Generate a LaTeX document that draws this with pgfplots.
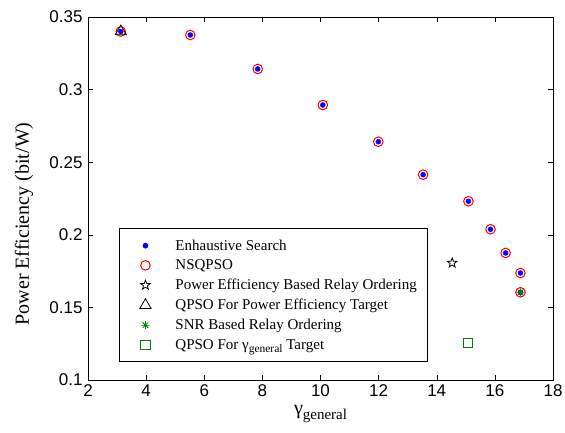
\documentclass[border=0pt]{standalone}
\usepackage{fontspec}
\setmainfont{Liberation Serif}
\setsansfont{Liberation Sans}
\usepackage{pgfplots}
\pgfplotsset{compat=1.18}
\definecolor{mgreen}{rgb}{0,0.5,0}

% five-pointed outline star
\pgfdeclareplotmark{pentagram}{%
  \pgfpathmoveto{\pgfpointpolar{90}{\pgfplotmarksize}}%
  \pgfpathlineto{\pgfpointpolar{126}{0.42\pgfplotmarksize}}%
  \pgfpathlineto{\pgfpointpolar{162}{\pgfplotmarksize}}%
  \pgfpathlineto{\pgfpointpolar{198}{0.42\pgfplotmarksize}}%
  \pgfpathlineto{\pgfpointpolar{234}{\pgfplotmarksize}}%
  \pgfpathlineto{\pgfpointpolar{270}{0.42\pgfplotmarksize}}%
  \pgfpathlineto{\pgfpointpolar{306}{\pgfplotmarksize}}%
  \pgfpathlineto{\pgfpointpolar{342}{0.42\pgfplotmarksize}}%
  \pgfpathlineto{\pgfpointpolar{18}{\pgfplotmarksize}}%
  \pgfpathlineto{\pgfpointpolar{54}{0.42\pgfplotmarksize}}%
  \pgfpathclose\pgfusepathqstroke}
% eight-armed asterisk
\pgfdeclareplotmark{star8}{%
  \pgfpathmoveto{\pgfpointpolar{0}{\pgfplotmarksize}}\pgfpathlineto{\pgfpointpolar{180}{\pgfplotmarksize}}%
  \pgfpathmoveto{\pgfpointpolar{90}{\pgfplotmarksize}}\pgfpathlineto{\pgfpointpolar{270}{\pgfplotmarksize}}%
  \pgfpathmoveto{\pgfpointpolar{45}{\pgfplotmarksize}}\pgfpathlineto{\pgfpointpolar{225}{\pgfplotmarksize}}%
  \pgfpathmoveto{\pgfpointpolar{135}{\pgfplotmarksize}}\pgfpathlineto{\pgfpointpolar{315}{\pgfplotmarksize}}%
  \pgfusepathqstroke}

% legend entry: a single mark inside a wider, empty cell
\pgfplotsset{lgmark/.style={legend image code/.code={%
  \path[draw=none, fill=none] (0pt,-4pt) rectangle (45pt,4pt);
  \draw[##1,/tikz/only marks] plot coordinates {(17pt,0pt)};}}}

\pgfplotstableread{
x      y
3.13   0.3400
5.52   0.3376
7.84   0.3142
10.08  0.2894
11.99  0.2641
13.53  0.2414
15.09  0.2231
15.85  0.2038
16.37  0.1875
16.88  0.1737
16.88  0.1604
}\searchdata

\begin{document}
\begin{tikzpicture}
\path[use as bounding box] (-88pt,-53pt) rectangle (477pt,380pt);
\begin{axis}[
  scale only axis, width=465pt, height=363pt,
  xmin=2, xmax=18, ymin=0.1, ymax=0.35,
  xtick={2,4,6,8,10,12,14,16,18},
  ytick={0.1,0.15,0.2,0.25,0.3,0.35},
  yticklabels={0.1,0.15,0.2,0.25,0.3,0.35},
  tick align=inside, major tick length=5pt,
  tick style={black, line width=0.5pt},
  axis line style={line width=0.6pt},
  ticklabel style={font=\sffamily\fontsize{17}{17}\selectfont},
  yticklabel style={xshift=-2pt},
  xticklabel style={yshift=-1pt},
  /pgf/number format/assume math mode=true,
  xlabel={γ\raisebox{-0.5ex}{\fontsize{15}{15}\selectfont general}},
  ylabel={Power Efficiency (bit/W)},
  label style={font=\fontsize{20}{20}\selectfont},
  xlabel style={at={(axis description cs:0.5,0)}, anchor=center, yshift=-34pt},
  ylabel style={at={(axis description cs:-0.1376,0.43)}, anchor=center},
  legend cell align=left,
  legend style={at={(rel axis cs:0.067,0.05)}, anchor=south west,
    draw=black, line width=0.6pt, fill=white,
    font=\fontsize{15}{17}\selectfont,
    inner xsep=9pt, inner ysep=9pt,
    row sep=4pt},
]
\addplot[only marks, mark=*, mark size=2.5pt, blue, mark options={fill=blue, draw=blue}, lgmark]
  table[x=x, y=y] {\searchdata};
\addlegendentry{Enhaustive Search}
\addplot[only marks, mark=o, mark size=4.8pt, red, mark options={line width=1pt}, lgmark]
  table[x=x, y=y] {\searchdata};
\addlegendentry{NSQPSO}
\addplot[only marks, mark=pentagram, mark size=5pt, black, mark options={line width=0.8pt}, lgmark]
  coordinates {(14.53,0.1806)};
\addlegendentry{Power Efficiency Based Relay Ordering}
\addplot[only marks, mark=triangle, mark size=6.5pt, black, mark options={line width=0.8pt}, lgmark]
  coordinates {(3.13,0.3400)};
\addlegendentry{QPSO For Power Efficiency Target}
\addplot[only marks, mark=star8, mark size=4pt, mgreen, mark options={line width=0.8pt}, lgmark]
  coordinates {(16.88,0.1604)};
\addlegendentry{SNR Based Relay Ordering}
\addplot[only marks, mark=square, mark size=4.6pt, mgreen, mark options={line width=0.8pt}, lgmark]
  coordinates {(15.06,0.1257)};
\addlegendentry{QPSO For γ\raisebox{-0.5ex}{\fontsize{11.5}{11.5}\selectfont general} Target}
\end{axis}
\end{tikzpicture}
\end{document}
